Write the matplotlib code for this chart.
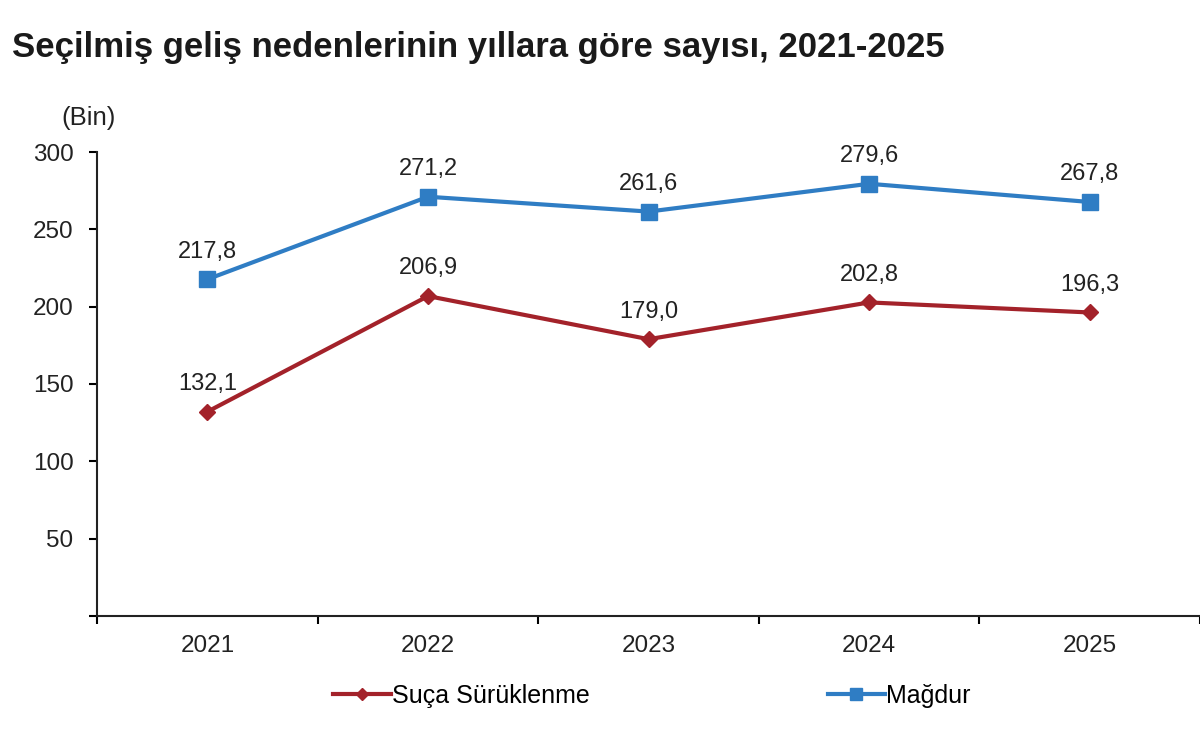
import matplotlib
matplotlib.use('Agg')
import matplotlib.pyplot as plt

plt.rcParams['font.family'] = ['Liberation Sans', 'DejaVu Sans']

years = ['2021', '2022', '2023', '2024', '2025']
suca = [132.1, 206.9, 179.0, 202.8, 196.3]
magdur = [217.8, 271.2, 261.6, 279.6, 267.8]
y_ticks = [0, 50, 100, 150, 200, 250, 300]

red = '#A3222A'
blue = '#2F7DC4'
txt = '#222222'

fig = plt.figure(figsize=(12, 7.5), dpi=100)
ax = fig.add_axes([0.081, 0.179, 0.919, 0.618])

x = list(range(len(years)))
l1, = ax.plot(x, suca, color=red, linewidth=3, marker='D', markersize=8,
              label='Suça Sürüklenme')
l2, = ax.plot(x, magdur, color=blue, linewidth=3, marker='s', markersize=11,
              label='Mağdur')

# value labels above the points
for xi, v in zip(x, suca):
    ax.annotate(f'{v:.1f}'.replace('.', ','), (xi, v), xytext=(0, 12),
                textcoords='offset points', ha='center', va='bottom',
                fontsize=17, color=txt)
for xi, v in zip(x, magdur):
    ax.annotate(f'{v:.1f}'.replace('.', ','), (xi, v), xytext=(0, 12),
                textcoords='offset points', ha='center', va='bottom',
                fontsize=17, color=txt)

ax.set_ylim(0, 300)
ax.set_xlim(-0.5, len(years) - 0.5)
ax.set_yticks(y_ticks)
ax.set_yticklabels([''] + [str(t) for t in y_ticks[1:]], fontsize=17.5, color=txt)

# ticks between categories, labels in the middle
ax.set_xticks([i - 0.5 for i in range(len(years) + 1)])
ax.set_xticklabels([])
ax.set_xticks(x, minor=True)
ax.set_xticklabels(years, minor=True, fontsize=17.5, color=txt)
ax.tick_params(axis='x', which='minor', length=0, pad=14)
ax.tick_params(axis='x', which='major', length=6, width=1.5, direction='out')
ax.tick_params(axis='y', length=6, width=1.5, direction='out', pad=11)

for s in ['top', 'right']:
    ax.spines[s].set_visible(False)
for s in ['left', 'bottom']:
    ax.spines[s].set_linewidth(1.5)
    ax.spines[s].set_color(txt)

fig.text(0.01, 0.937, 'Seçilmiş geliş nedenlerinin yıllara göre sayısı, 2021-2025',
         fontsize=25, fontweight='bold', va='center', ha='left', color='#1a1a1a')
fig.text(0.051, 0.842, '(Bin)', fontsize=18.5, va='center', ha='left', color=txt)

leg1 = fig.legend(handles=[l1], loc='center left', bbox_to_anchor=(0.259, 0.072),
                  frameon=False, fontsize=18, handlelength=2.3, handletextpad=0.05,
                  markerscale=0.8)
leg2 = fig.legend(handles=[l2], loc='center left', bbox_to_anchor=(0.671, 0.072),
                  frameon=False, fontsize=18, handlelength=2.3, handletextpad=0.05,
                  markerscale=0.8)

fig.savefig('out.png', dpi=100)
